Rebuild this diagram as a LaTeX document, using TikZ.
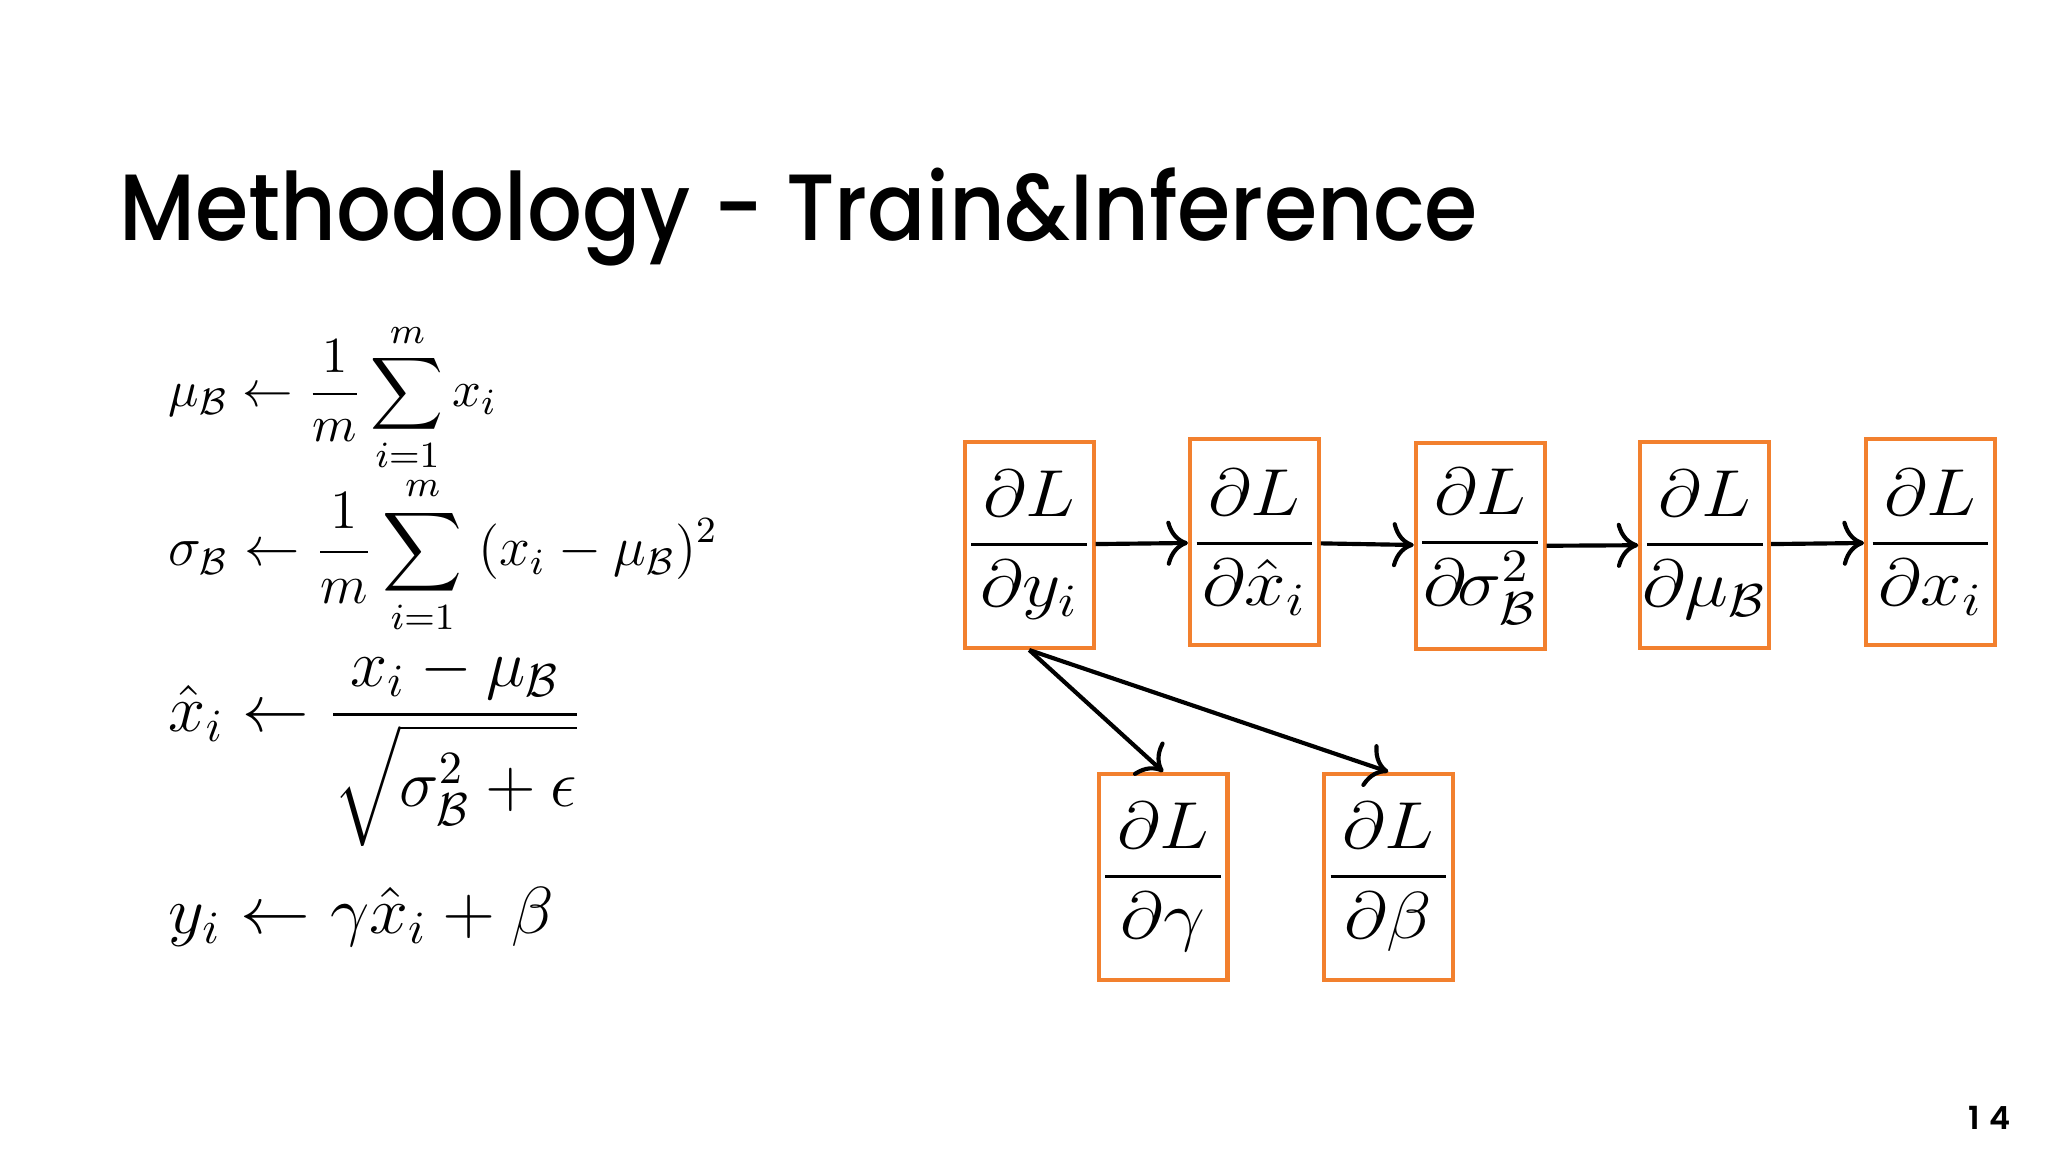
\documentclass[tikz,border=0pt]{standalone}
\usepackage{amsmath}
\usepackage{amssymb}
\usepackage{graphicx}
\usepackage{fontspec}
\usepackage{tikz}
\usetikzlibrary{arrows.meta,positioning}
\newfontfamily\titlefont{Poppins Medium}[FakeStretch=0.915]
\newfontfamily\pagefont{Poppins SemiBold}[LetterSpace=30]
\definecolor{bnorange}{RGB}{242,128,46}
% gradient box: fixed bar length, widened a little
\newcommand{\dLd}[1]{\scalebox{1.12}[1]{$\displaystyle\frac{\hbox to 0.786cm{\hss$\partial L$\hss}}{\hbox to 0.786cm{\hss$\partial #1$\hss}}$}}
\tikzset{
  gradbox/.style={draw=bnorange,line width=0.9pt,minimum width=0.98cm,minimum height=1.57cm,inner sep=0pt,font=\fontsize{14.4}{17}\selectfont},
  eqn/.style={anchor=base west,inner sep=0pt}
}

\begin{document}
\begin{tikzpicture}[x=0.01cm,y=-0.01cm]
\fill[white] (0,0) rectangle (1560,877.5);
\useasboundingbox (0,0) rectangle (1560,877.5);
% title and page number
\node[anchor=base west,inner sep=0pt,font=\titlefont\fontsize{20.4}{24}\selectfont] (title) at (90,183) {Methodology - Train\&Inference};
\node[anchor=base east,inner sep=0pt,font=\pagefont\fontsize{6.9}{8}\selectfont] (pgnum) at (1532,860) {14};
% batch norm forward pass
\node[eqn,font=\fontsize{10.95}{14}\selectfont] (eqmu) at (128,310)
  {$\displaystyle \mu_{\mathcal B} \leftarrow \frac{1}{m}\sum_{i=1}^{m} x_i$};
\node[eqn,font=\fontsize{12}{15}\selectfont] (eqsig) at (128,431)
  {$\displaystyle \sigma_{\mathcal B} \leftarrow \frac{1}{m}\sum_{i=1}^{m}\;(x_i-\mu_{\mathcal B})^2$};
\node[eqn,font=\fontsize{14.4}{17}\selectfont] (eqxhat) at (128,557)
  {$\displaystyle \hat{x}_i \leftarrow \frac{x_i-\mu_{\mathcal B}}{\sqrt{\rule[-0.55em]{0pt}{1.6em}\sigma_{\mathcal B}^2+\epsilon}}$};
\node[eqn,font=\fontsize{14.4}{17}\selectfont] (eqy) at (128,711)
  {\scalebox{1.05}[1]{$\displaystyle y_i \leftarrow \gamma\hat{x}_i+\beta$}};
% backward pass
\node[gradbox] (dy) at (784,415) {\dLd{y_i}};
\node[gradbox] (dxhat) at (955.5,413) {\dLd{\hat{x}_i}};
\node[gradbox] (dsig) at (1127.5,416) {\dLd{\mkern-2mu\sigma_{\mathcal B}^2}};
\node[gradbox] (dmu) at (1298.5,415) {\dLd{\mu_{\mathcal B}}};
\node[gradbox] (dx) at (1470.5,413) {\dLd{x_i}};
\node[gradbox] (dgam) at (886,668) {\dLd{\gamma}};
\node[gradbox] (dbet) at (1057.5,668) {\dLd{\beta}};
\path[-{To[scale=1.3]},line width=0.9pt]
  (dy) edge (dxhat)
  (dxhat) edge (dsig)
  (dsig) edge (dmu)
  (dmu) edge (dx)
  % diag linkages
  (dy.south) edge (dgam.north)
  (dy.south) edge (dbet.north);
\end{tikzpicture}
\end{document}
